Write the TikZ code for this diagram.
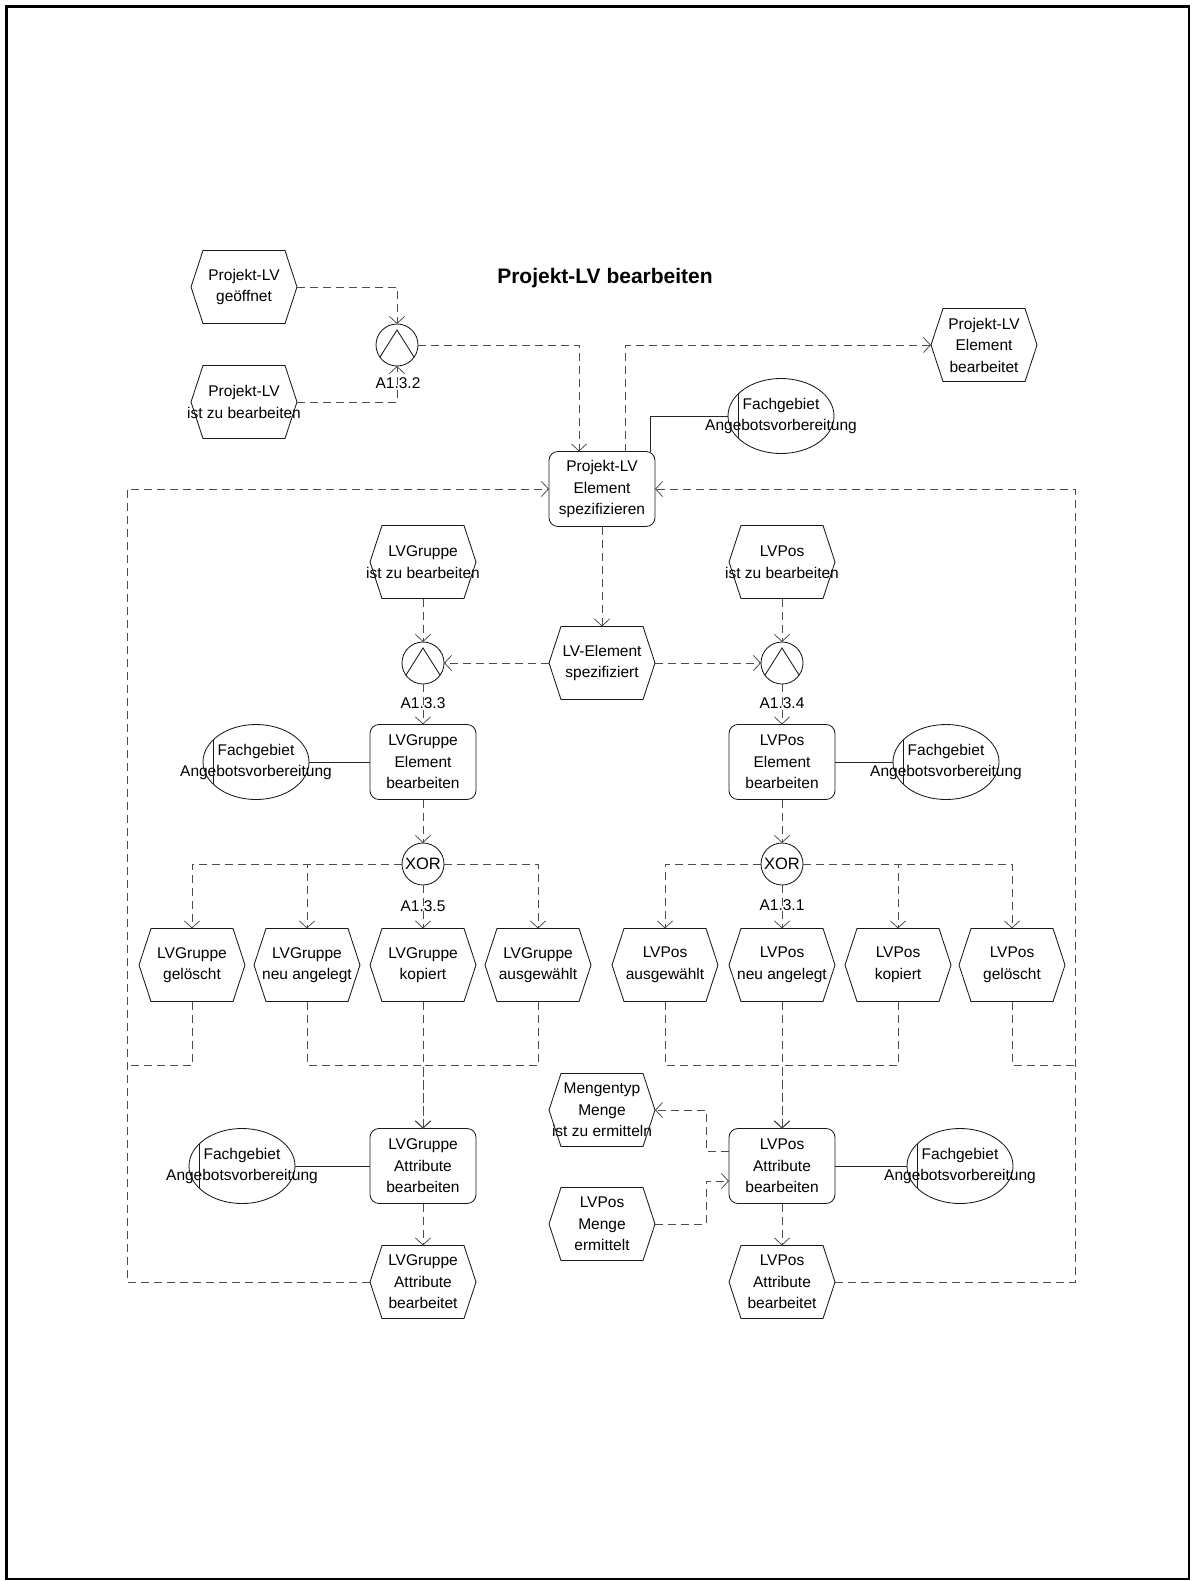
\documentclass[tikz,border=0pt]{standalone}
\usepackage{fontspec}
\setmainfont{Liberation Sans}
\usetikzlibrary{arrows.meta,shapes.geometric}
\begin{document}
\begin{tikzpicture}[x=1pt,y=-1pt,
  ftxt/.style={font=\fontsize{15.5}{21.5}\selectfont, align=center, inner sep=0pt, text=black},
  ttl/.style={font=\fontsize{21}{25}\bfseries\selectfont, inner sep=0pt, text=black},
  shp/.style={draw=black!90, line width=0.85pt},
  fnbox/.style={ftxt, shp, rounded corners=9pt, minimum width=106pt, minimum height=75pt, outer sep=0pt},
  evbox/.style={inner sep=0pt, outer sep=0pt, minimum width=106pt, minimum height=73pt, label={[ftxt]center:{#1}}},
  orgbox/.style={shp, ellipse, inner sep=0pt, outer sep=0pt, minimum width=106pt, minimum height=75pt, label={[ftxt]center:{#1}}},
  gw/.style={shp, circle, inner sep=0pt, outer sep=0pt, minimum size=42pt},
  xorgw/.style={gw, font=\fontsize{16.5}{16.5}\selectfont},
  gwlbl/.style={ftxt},
  cflow/.style={draw=black!70, line width=0.8pt, dash pattern=on 8pt off 5pt, -{Straight Barb[length=7pt,width=15pt]}},
  cjoin/.style={cflow, -},
  cassign/.style={draw=black!85, line width=0.85pt},
]
\useasboundingbox (0,0) rectangle (1191,1581);
% page frame
\draw[line width=2.6pt] (6.3,6.3) rectangle (1189,1579);

% title
\node[ttl, anchor=base] (title) at (605,283) {Projekt-LV bearbeiten};

% events (hexagons drawn below)
\node[evbox={Projekt-LV\\geöffnet}] (e1) at (244,287) {};
\node[evbox={Projekt-LV\\ist zu bearbeiten}] (e2) at (244,402) {};
\node[evbox={Projekt-LV\\Element\\bearbeitet}] (e3) at (984,345) {};
\node[evbox={LVGruppe\\ist zu bearbeiten}] (e4) at (423,562) {};
\node[evbox={LVPos\\ist zu bearbeiten}] (e5) at (782,562) {};
\node[evbox={LV-Element\\spezifiziert}] (e6) at (602,663) {};
\node[evbox={LVGruppe\\gelöscht}] (g1) at (192,965) {};
\node[evbox={LVGruppe\\neu angelegt}] (g2) at (307,965) {};
\node[evbox={LVGruppe\\kopiert}] (g3) at (423,965) {};
\node[evbox={LVGruppe\\ausgewählt}] (g4) at (538,965) {};
\node[evbox={LVPos\\ausgewählt}] (p1) at (665,965) {};
\node[evbox={LVPos\\neu angelegt}] (p2) at (782,965) {};
\node[evbox={LVPos\\kopiert}] (p3) at (898,965) {};
\node[evbox={LVPos\\gelöscht}] (p4) at (1012,965) {};
\node[evbox={Mengentyp\\Menge\\ist zu ermitteln}] (e7) at (602,1110) {};
\node[evbox={LVPos\\Menge\\ermittelt}] (e8) at (602,1224) {};
\node[evbox={LVGruppe\\Attribute\\bearbeitet}] (e9) at (423,1282) {};
\node[evbox={LVPos\\Attribute\\bearbeitet}] (e10) at (782,1282) {};

\foreach \n in {e1,e2,e3,e4,e5,e6,g1,g2,g3,g4,p1,p2,p3,p4,e7,e8,e9,e10}{
  \draw[shp] ([xshift=-53pt]\n.center) -- ([xshift=-41pt,yshift=36.5pt]\n.center)
    -- ([xshift=41pt,yshift=36.5pt]\n.center) -- ([xshift=53pt]\n.center)
    -- ([xshift=41pt,yshift=-36.5pt]\n.center) -- ([xshift=-41pt,yshift=-36.5pt]\n.center) -- cycle;
}

% functions
\node[fnbox] (f1) at (602,489) {Projekt-LV\\Element\\spezifizieren};
\node[fnbox] (f2) at (423,762) {LVGruppe\\Element\\bearbeiten};
\node[fnbox] (f3) at (782,762) {LVPos\\Element\\bearbeiten};
\node[fnbox] (f4) at (423,1166) {LVGruppe\\Attribute\\bearbeiten};
\node[fnbox] (f5) at (782,1166) {LVPos\\Attribute\\bearbeiten};

% organisational units
\node[orgbox={Fachgebiet\\Angebotsvorbereitung}] (o1) at (781,416) {};
\node[orgbox={Fachgebiet\\Angebotsvorbereitung}] (o2) at (256,762) {};
\node[orgbox={Fachgebiet\\Angebotsvorbereitung}] (o3) at (946,762) {};
\node[orgbox={Fachgebiet\\Angebotsvorbereitung}] (o4) at (242,1166) {};
\node[orgbox={Fachgebiet\\Angebotsvorbereitung}] (o5) at (960,1166) {};
\foreach \n in {o1,o2,o3,o4,o5}{
  \draw[shp] ([xshift=10pt,yshift=22pt]\n.west) -- ([xshift=10pt,yshift=-22pt]\n.west);
}

% connectors (gateways)
\node[gw] (and1) at (397,345) {};
\node[gw] (and2) at (423,663) {};
\node[gw] (and3) at (782,663) {};
\foreach \n in {and1,and2,and3}{
  \draw[shp] ([xshift=-17pt,yshift=-12pt]\n.center) -- ([yshift=15pt]\n.center) -- ([xshift=17pt,yshift=-12pt]\n.center);
}
\node[xorgw] (x1) at (423,864) {XOR};
\node[xorgw] (x2) at (782,864) {XOR};

\node[gwlbl] (l1) at (398,383) {A1.3.2};
\node[gwlbl] (l2) at (423,703) {A1.3.3};
\node[gwlbl] (l3) at (782,703) {A1.3.4};
\node[gwlbl] (l4) at (423,906) {A1.3.5};
\node[gwlbl] (l5) at (782,905) {A1.3.1};

% loop and join points
\coordinate (lj) at (127,1065);
\coordinate (rj) at (1075,1065);
\coordinate (gj) at (423,1065);
\coordinate (pj) at (782,1065);

% control flow
\draw[cflow] (e1.east) -| (and1.north);
\draw[cflow] (e2.east) -| (and1.south);
\draw[cflow] (and1.east) -| ([xshift=-23pt]f1.north);
\draw[cflow] ([xshift=23pt]f1.north) |- (e3.west);
\draw[cflow] (f1.south) -- (e6.north);
\draw[cflow] (e6.west) -- (and2.east);
\draw[cflow] (e6.east) -- (and3.west);
\draw[cflow] (e4.south) -- (and2.north);
\draw[cflow] (e5.south) -- (and3.north);
\draw[cflow] (and2.south) -- (f2.north);
\draw[cflow] (and3.south) -- (f3.north);
\draw[cflow] (f2.south) -- (x1.north);
\draw[cflow] (f3.south) -- (x2.north);

\draw[cflow] (x1.west) -| (g1.north);
\draw[cflow] (x1.west) -| (g2.north);
\draw[cflow] (x1.south) -- (g3.north);
\draw[cflow] (x1.east) -| (g4.north);
\draw[cflow] (x2.west) -| (p1.north);
\draw[cflow] (x2.south) -- (p2.north);
\draw[cflow] (x2.east) -| (p3.north);
\draw[cflow] (x2.east) -| (p4.north);

\draw[cflow] (g2.south) |- (gj) -- (f4.north);
\draw[cflow] (g4.south) |- (gj) -- (f4.north);
\draw[cflow] (g3.south) -- (f4.north);
\draw[cflow] (p1.south) |- (pj) -- (f5.north);
\draw[cflow] (p3.south) |- (pj) -- (f5.north);
\draw[cflow] (p2.south) -- (f5.north);

\draw[cflow] (f4.south) -- (e9.north);
\draw[cflow] (f5.south) -- (e10.north);

\draw[cflow] ([yshift=15pt]f5.west) -- ([xshift=-23pt,yshift=15pt]f5.west) |- (e7.east);
\draw[cflow] (e8.east) -| ([xshift=-23pt,yshift=-15pt]f5.west) -- ([yshift=-15pt]f5.west);

% loops back to the specification step
\draw[cflow] (e9.west) -| (lj |- f1.west) -- (f1.west);
\draw[cjoin] (g1.south) |- (lj);
\draw[cflow] (e10.east) -| (rj |- f1.east) -- (f1.east);
\draw[cjoin] (p4.south) |- (rj);

% organisational assignments
\draw[cassign] (o1.west) -| ([xshift=48pt]f1.north);
\draw[cassign] (o2.east) -- (f2.west);
\draw[cassign] (f3.east) -- (o3.west);
\draw[cassign] (o4.east) -- (f4.west);
\draw[cassign] (f5.east) -- (o5.west);
\end{tikzpicture}
\end{document}
